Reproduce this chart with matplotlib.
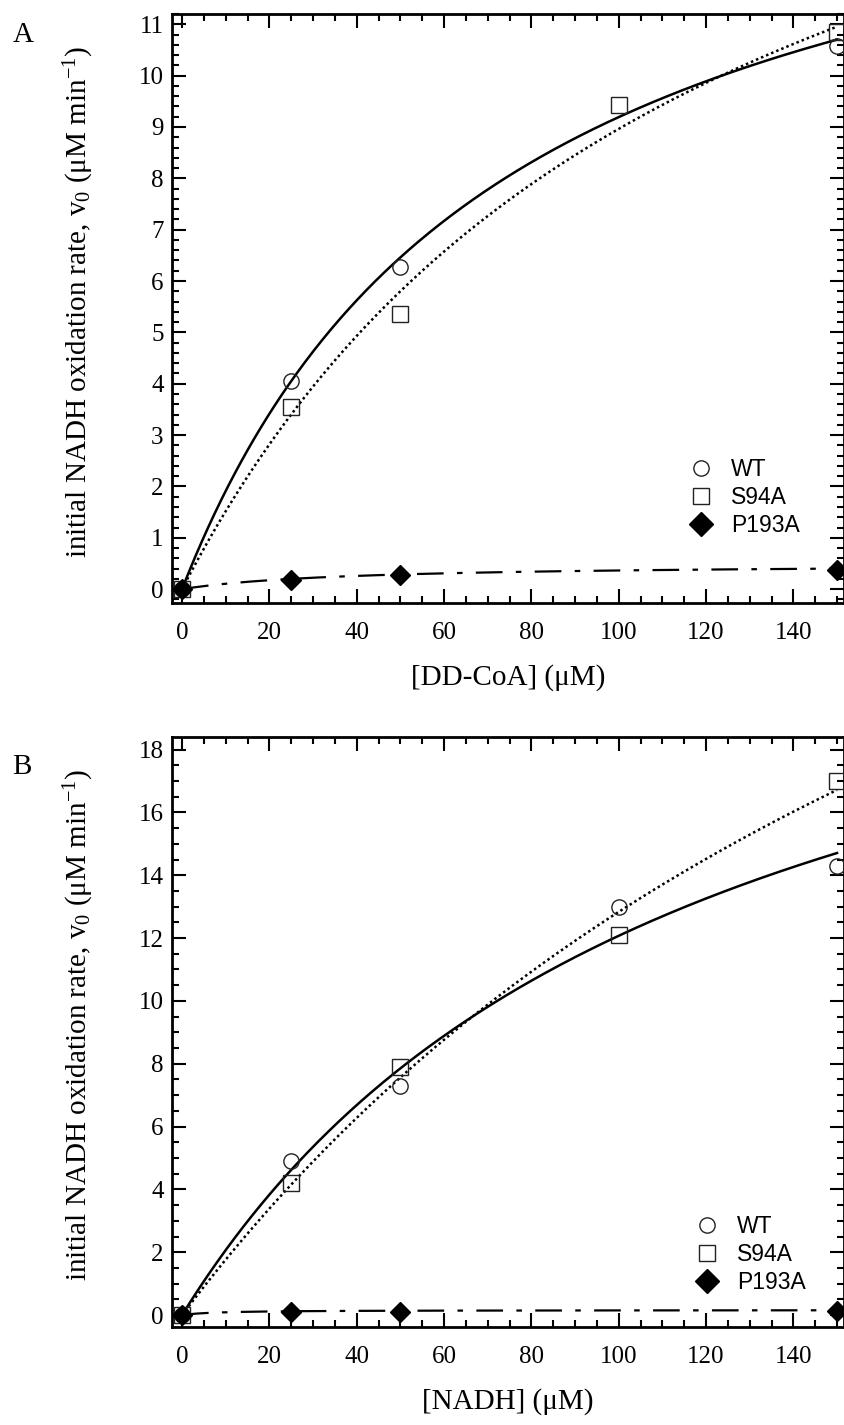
import numpy as np
import matplotlib
matplotlib.use("Agg")
import matplotlib.pyplot as plt
from matplotlib.lines import Line2D
from matplotlib.ticker import MultipleLocator

plt.rcParams["font.family"] = ["Liberation Serif", "DejaVu Serif"]
plt.rcParams["mathtext.fontset"] = "custom"
plt.rcParams["mathtext.rm"] = "Liberation Serif"
plt.rcParams["mathtext.it"] = "Liberation Serif:italic"

# ---- Panel A: varying DD-CoA ----
ddcoa_wt_x = [0, 25, 50, 150]
ddcoa_wt_y = [0.0, 4.05, 6.28, 10.58]
ddcoa_s94a_x = [0, 25, 50, 100, 150]
ddcoa_s94a_y = [0.0, 3.55, 5.35, 9.43, 10.84]
ddcoa_p193a_x = [0, 25, 50, 150]
ddcoa_p193a_y = [0.0, 0.18, 0.27, 0.38]
# Michaelis-Menten fits (Vmax, Km) for WT, S94A, P193A
ddcoa_vmax = [15.93, 19.7, 0.5]
ddcoa_km = [73.3, 119.8, 37.5]

# ---- Panel B: varying NADH ----
nadh_wt_x = [0, 25, 50, 100, 150]
nadh_wt_y = [0.0, 4.9, 7.3, 13.0, 14.3]
nadh_s94a_x = [0, 25, 50, 100, 150]
nadh_s94a_y = [0.0, 4.2, 7.9, 12.1, 17.0]
nadh_p193a_x = [0, 25, 50, 150]
nadh_p193a_y = [0.0, 0.1, 0.1, 0.12]
nadh_vmax = [26.1, 42.3, 0.16]
nadh_km = [116.2, 229.6, 8.0]

labels = ["WT", "S94A", "P193A"]
ylabel = "initial NADH oxidation rate, v$_0$ (μM min$^{-1}$)"

W, H = 845, 1425
fig = plt.figure(figsize=(W / 100, H / 100), dpi=100)


def px_axes(left, top, right, bottom):
    return fig.add_axes([left / W, 1 - bottom / H, (right - left) / W, (bottom - top) / H])


def mm(s, vmax, km):
    return vmax * s / (km + s)


def style_axes(ax, ymajor, yminor):
    ax.xaxis.set_major_locator(MultipleLocator(20))
    ax.xaxis.set_minor_locator(MultipleLocator(5))
    ax.yaxis.set_major_locator(MultipleLocator(ymajor))
    ax.yaxis.set_minor_locator(MultipleLocator(yminor))
    ax.tick_params(which="both", direction="in", top=True, right=True, width=1.5)
    ax.tick_params(which="major", length=10)
    ax.tick_params(which="minor", length=5)
    ax.tick_params(axis="x", which="major", pad=14, labelsize=18)
    ax.tick_params(axis="y", which="major", pad=6, labelsize=18)
    for sp in ax.spines.values():
        sp.set_linewidth(2.0)


def draw_panel(ax, data, vmax, km):
    s = np.linspace(0, 150, 300)
    styles = [dict(ls="-", lw=1.8), dict(ls=(0, (1, 1.2)), lw=1.8),
              dict(ls=(0, (12, 6, 2.5, 6)), lw=1.6)]
    for st, vm, k in zip(styles, vmax, km):
        ax.plot(s, mm(s, vm, k), color="black", **st, zorder=2)
    (wx, wy), (sx, sy), (px, py) = data
    ax.plot(wx, wy, ls="none", marker="o", ms=11, mfc="none", mec="#222222", mew=1.0,
            clip_on=False, zorder=3)
    ax.plot(sx, sy, ls="none", marker="s", ms=11, mfc="none", mec="#222222", mew=1.0,
            clip_on=False, zorder=3)
    ax.plot(px, py, ls="none", marker="D", ms=10, mfc="black", mec="black",
            clip_on=False, zorder=4)


def add_legend(ax, x_px, y_px):
    handles = [
        Line2D([], [], ls="none", marker="o", ms=11, mfc="none", mec="#222222", mew=1.0),
        Line2D([], [], ls="none", marker="s", ms=11, mfc="none", mec="#222222", mew=1.0),
        Line2D([], [], ls="none", marker="D", ms=12, mfc="black", mec="black"),
    ]
    leg = ax.legend(handles, labels, loc="upper left",
                    bbox_to_anchor=(x_px / W, 1 - y_px / H),
                    bbox_transform=fig.transFigure, frameon=False,
                    prop={"family": "Liberation Sans", "size": 16.5},
                    handlelength=1.0, handletextpad=0.8, labelspacing=0.22,
                    borderpad=0, borderaxespad=0)
    return leg


# Panel A
axA = px_axes(172, 14, 844, 603)
draw_panel(axA, [(ddcoa_wt_x, ddcoa_wt_y), (ddcoa_s94a_x, ddcoa_s94a_y),
                 (ddcoa_p193a_x, ddcoa_p193a_y)], ddcoa_vmax, ddcoa_km)
style_axes(axA, 1, 0.2)
axA.set_xlim(-2.3, 151.6)
axA.set_ylim(-0.27, 11.2)
axA.set_xlabel("[DD-CoA] (μM)", fontsize=21, labelpad=14)
add_legend(axA, 690, 458)

# Panel B
axB = px_axes(172, 737, 844, 1327)
draw_panel(axB, [(nadh_wt_x, nadh_wt_y), (nadh_s94a_x, nadh_s94a_y),
                 (nadh_p193a_x, nadh_p193a_y)], nadh_vmax, nadh_km)
style_axes(axB, 2, 0.5)
axB.set_xlim(-2.3, 151.6)
axB.set_ylim(-0.38, 18.4)
axB.set_xlabel("[NADH] (μM)", fontsize=21, labelpad=14)
add_legend(axB, 696, 1215)

# Y labels and panel letters
fig.text(79 / W, 1 - 302 / H, ylabel, rotation=90, ha="center", va="center", fontsize=21)
fig.text(79 / W, 1 - 1025 / H, ylabel, rotation=90, ha="center", va="center", fontsize=21)
fig.text(23 / W, 1 - 35 / H, "A", ha="center", va="center", fontsize=21)
fig.text(22 / W, 1 - 767 / H, "B", ha="center", va="center", fontsize=21)

fig.savefig("out.png", dpi=100)
